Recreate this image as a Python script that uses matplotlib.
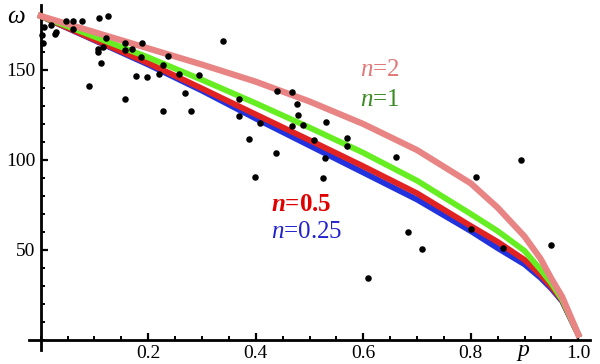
import matplotlib
matplotlib.use("Agg")
from matplotlib import pyplot as plt
from matplotlib.ticker import MultipleLocator, FixedLocator

# curve samples
p_curve = [0, 0.1, 0.2, 0.3, 0.4, 0.5, 0.6, 0.7, 0.8, 0.85, 0.9, 0.93, 0.95, 0.97, 1.0]
w_n2 = [180, 171, 162, 153, 143.5, 132.5, 120, 105.5, 87, 73.5, 57.5, 45, 34, 24, 3]
w_n1 = [180, 168.5, 157, 144.5, 131.5, 118, 104, 88.5, 70, 60.5, 49.5, 39, 31.5, 22.5, 3]
w_n05 = [180, 166.8, 153.8, 139.7, 125.3, 111, 96.5, 81.5, 63.3, 54.5, 44.5, 36, 29.5, 22, 3]
w_n025 = [180, 166.5, 153, 138.5, 123, 108, 93, 78, 60.5, 51, 42, 34.5, 28.5, 21.5, 3]

# measured points
p_obs = [0.002, 0.005, 0.007, 0.020, 0.027, 0.028, 0.047, 0.060, 0.060, 0.076,
         0.089, 0.109, 0.126, 0.121, 0.107, 0.107, 0.116, 0.112, 0.157, 0.157,
         0.169, 0.157, 0.177, 0.188, 0.187, 0.197, 0.227, 0.220, 0.227, 0.237,
         0.257, 0.268, 0.280, 0.295, 0.340, 0.368, 0.369, 0.407, 0.388, 0.437,
         0.399, 0.440, 0.468, 0.477, 0.479, 0.468, 0.488, 0.531, 0.508, 0.569,
         0.569, 0.529, 0.526, 0.660, 0.893, 0.810, 0.609, 0.683, 0.710, 0.800,
         0.860, 0.949]
w_obs = [169.4, 165, 174, 175, 170, 171, 177, 177, 172.6, 177,
         141, 179, 180, 168, 161.5, 160, 163, 154, 165, 161,
         161.7, 134, 146.7, 165, 157, 146, 127, 148, 153, 158,
         148, 137, 127, 147, 166.3, 134, 124.6, 120.4, 111.7, 104,
         90.4, 138.5, 138, 131, 125, 119, 119.4, 121, 111, 112.4,
         108, 101, 89.8, 101.9, 99.8, 90.7, 34.3, 59.8, 50.5, 61.5,
         51, 52.8]

plt.rcParams['font.family'] = ['Liberation Serif', 'DejaVu Serif']
plt.rcParams['mathtext.fontset'] = 'custom'
plt.rcParams['mathtext.rm'] = 'Liberation Serif'
plt.rcParams['mathtext.it'] = 'Liberation Serif:italic'
plt.rcParams['mathtext.bf'] = 'Liberation Serif:bold'
plt.rcParams['mathtext.bfit'] = 'Liberation Serif:italic:bold'

fig = plt.figure(figsize=(6, 3.64), dpi=100)
ax = fig.add_axes([29 / 600, 14 / 364, 561 / 600, 345 / 364])

ax.plot(p_curve, w_n025, color='#2233DD', lw=4.2, zorder=2)
ax.plot(p_curve, w_n05, color='#E02222', lw=4.2, zorder=3)
ax.plot(p_curve, w_n1, color='#66EE22', lw=4.2, zorder=4)
ax.plot(p_curve, w_n2, color='#E88484', lw=4.5, zorder=5)
ax.scatter(p_obs, w_obs, s=22, color='black', zorder=6, linewidths=0)

ax.set_xlim(-0.0218, 1.0218)
ax.set_ylim(-5.6, 186.1)

for side in ['top', 'right']:
    ax.spines[side].set_visible(False)
ax.spines['left'].set_position(('data', 0))
ax.spines['bottom'].set_position(('data', 0))
ax.spines['left'].set_linewidth(2)
ax.spines['bottom'].set_linewidth(2)

ax.xaxis.set_major_locator(FixedLocator([0.2, 0.4, 0.6, 0.8, 1.0]))
ax.xaxis.set_minor_locator(MultipleLocator(0.05))
ax.yaxis.set_major_locator(FixedLocator([50, 100, 150]))
ax.yaxis.set_minor_locator(MultipleLocator(10))
ax.set_xticklabels(['0.2', '0.4', '0.6', '0.8', '1.0'])
ax.tick_params(which='major', direction='in', length=5, width=1.6, labelsize=14, pad=4)
ax.tick_params(which='minor', direction='in', length=3, width=1.4)

ax.text(-0.029, 179.4, r'$\omega$', fontsize=18, ha='right', va='center')
ax.text(0.897, -7.2, r'$p$', fontsize=17, ha='center', va='center')

ax.text(0.594, 150, r'$n$=2', color='#E07878', fontsize=18, va='center')
ax.text(0.594, 133.3, r'$n$=1', color='#3A8A22', fontsize=18, va='center')
ax.text(0.428, 75.5, r'$\mathbfit{n}$=0.5', color='#E00000', fontsize=18,
        fontweight='bold', va='center')
ax.text(0.428, 60.2, r'$n$=0.25', color='#2222CC', fontsize=18, va='center')

fig.savefig('out.png', dpi=100)
